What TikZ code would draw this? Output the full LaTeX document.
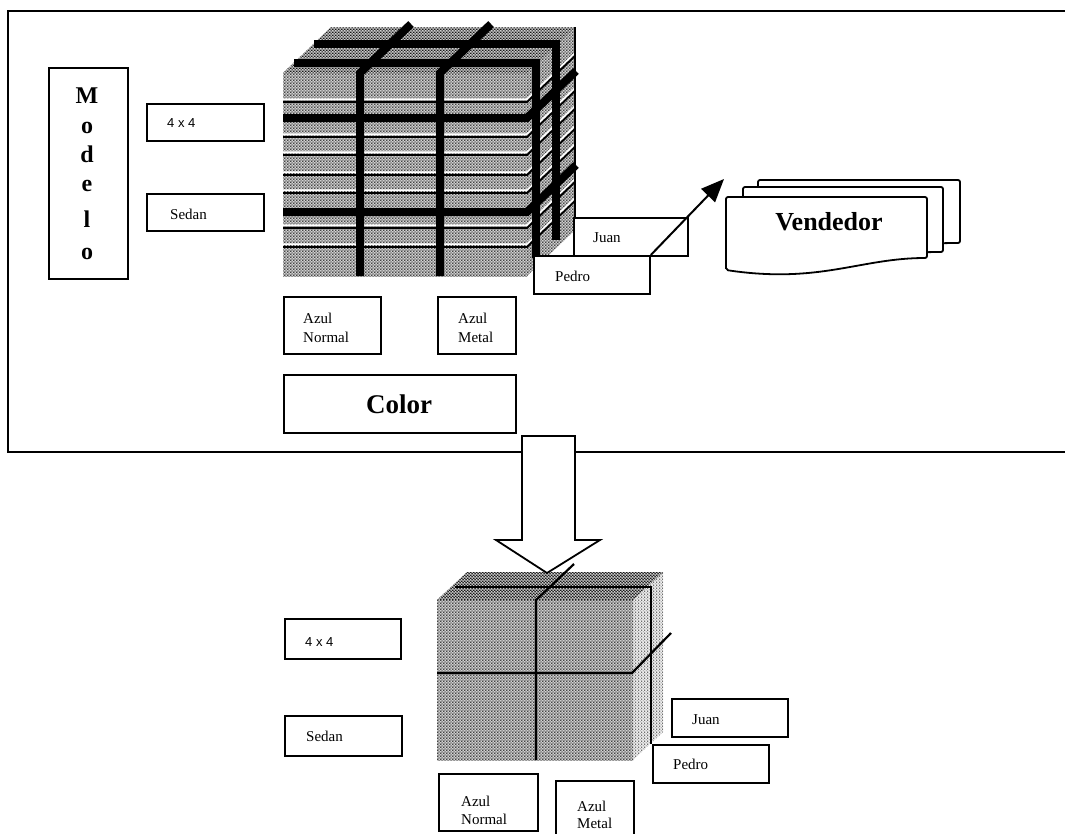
\documentclass[tikz,border=0pt]{standalone}
\usepackage{fontspec}
\setmainfont{Liberation Serif}
\newfontfamily\sansf{Liberation Sans}
\usetikzlibrary{arrows.meta,patterns}
\pgfdeclarepatternformonly{htmid}{\pgfqpoint{0pt}{0pt}}{\pgfqpoint{3pt}{3pt}}{\pgfqpoint{3pt}{3pt}}{%
  \pgfpathcircle{\pgfqpoint{0pt}{0pt}}{0.8pt}\pgfpathcircle{\pgfqpoint{3pt}{0pt}}{0.8pt}%
  \pgfpathcircle{\pgfqpoint{0pt}{3pt}}{0.8pt}\pgfpathcircle{\pgfqpoint{3pt}{3pt}}{0.8pt}%
  \pgfpathcircle{\pgfqpoint{1.5pt}{1.5pt}}{0.8pt}\pgfusepath{fill}}
\pgfdeclarepatternformonly{htdark}{\pgfqpoint{0pt}{0pt}}{\pgfqpoint{3pt}{3pt}}{\pgfqpoint{3pt}{3pt}}{%
  \pgfpathcircle{\pgfqpoint{0pt}{0pt}}{0.95pt}\pgfpathcircle{\pgfqpoint{3pt}{0pt}}{0.95pt}%
  \pgfpathcircle{\pgfqpoint{0pt}{3pt}}{0.95pt}\pgfpathcircle{\pgfqpoint{3pt}{3pt}}{0.95pt}%
  \pgfpathcircle{\pgfqpoint{1.5pt}{1.5pt}}{0.95pt}\pgfusepath{fill}}
\pgfdeclarepatternformonly{htlight}{\pgfqpoint{0pt}{0pt}}{\pgfqpoint{3pt}{3pt}}{\pgfqpoint{3pt}{3pt}}{%
  \pgfpathcircle{\pgfqpoint{0pt}{0pt}}{0.6pt}\pgfpathcircle{\pgfqpoint{3pt}{0pt}}{0.6pt}%
  \pgfpathcircle{\pgfqpoint{0pt}{3pt}}{0.6pt}\pgfpathcircle{\pgfqpoint{3pt}{3pt}}{0.6pt}%
  \pgfpathcircle{\pgfqpoint{1.5pt}{1.5pt}}{0.6pt}\pgfusepath{fill}}
\begin{document}
\begin{tikzpicture}[x=1pt,y=-1pt,
  box/.style={draw, line width=1.8pt, fill=white, inner sep=0pt, anchor=north west},
  lbl/.style={anchor=base west, inner sep=0pt, font=\fontsize{15}{19}\selectfont},
  sanslbl/.style={anchor=base west, inner sep=0pt, font=\sansf\fontsize{13}{15}\selectfont},
  letter/.style={anchor=base, inner sep=0pt, font=\fontsize{24}{24}\selectfont\bfseries},
  big/.style={anchor=base, inner sep=0pt, font=\fontsize{27}{27}\selectfont\bfseries},
  thick bar/.style={line width=8pt},
  thin line/.style={line width=1.8pt},
  doc/.style={draw, line width=1.8pt, fill=white, rounded corners=2pt}]
\useasboundingbox (0,0) rectangle (1065,833);
\fill[white] (0,0) rectangle (1065,833);

% frame
\draw[line width=2pt] (1075,11) -- (8,11) -- (8,452) -- (1075,452);

% ---------- top cube ----------
\fill[pattern=htmid] (283,73) rectangle (527,276);
\fill[pattern=htdark] (283,73) -- (331,27) -- (575,27) -- (527,73) -- cycle;
\fill[pattern=htmid] (527,73) -- (575,27) -- (575,230) -- (527,276) -- cycle;
\foreach \y in {102,137,155,175,193,228,247} {
  \draw[white, line width=1.5pt] (283,\y-3) -- (527,\y-3) -- (575,\y-49);
  \draw[thin line] (283,\y) -- (527,\y) -- (575,\y-46);
}
\draw[thick bar] (283,118) -- (527,118) -- (576,71);
\draw[thick bar] (283,212) -- (527,212) -- (576,165);
\draw[thick bar] (360,276) -- (360,73) -- (411,24);
\draw[thick bar] (440,276) -- (440,73) -- (491,24);
\draw[thick bar] (294,63) -- (536,63) -- (536,258);
\draw[thick bar] (314,44) -- (556,44) -- (556,240);
\draw[line width=1.4pt] (575,27) -- (575,217);

% ---------- top boxes ----------
\node[box, minimum width=79pt, minimum height=211pt] (modelo) at (48,67) {};
\node[letter] (m1) at (87,103) {M};
\node[letter] (m2) at (87,133) {o};
\node[letter] (m3) at (87,162) {d};
\node[letter] (m4) at (87,191) {e};
\node[letter] (m5) at (87,227) {l};
\node[letter] (m6) at (87,259) {o};

\node[box, minimum width=117pt, minimum height=37pt] (b44t) at (146,103) {};
\node[sanslbl] (t44t) at (167,127) {4 x 4};
\node[box, minimum width=117pt, minimum height=37pt] (sedt) at (146,193) {};
\node[lbl] (tsedt) at (170,219) {Sedan};

\node[box, minimum width=97pt, minimum height=57pt] (anormt) at (283,296) {};
\node[lbl] (tanormt1) at (303,323) {Azul};
\node[lbl] (tanormt2) at (303,342) {Normal};
\node[box, minimum width=78pt, minimum height=57pt] (ametalt) at (437,296) {};
\node[lbl] (tametalt1) at (458,323) {Azul};
\node[lbl] (tametalt2) at (458,342) {Metal};
\node[box, minimum width=232pt, minimum height=58pt] (colorb) at (283,374) {};
\node[big] (tcolor) at (399,413) {Color};

\node[box, minimum width=114pt, minimum height=38pt] (juant) at (573,217) {};
\node[lbl] (tjuant) at (593,242) {Juan};
\node[box, minimum width=116pt, minimum height=38pt] (pedrot) at (533,255) {};
\node[lbl] (tpedrot) at (555,281) {Pedro};

% Vendedor documents
\draw[doc] (758,250) -- (758,180) -- (960,180) -- (960,243) .. controls (900,243) and (820,252) .. (758,250) -- cycle;
\draw[doc] (743,260) -- (743,187) -- (943,187) -- (943,252) .. controls (880,252) and (800,263) .. (743,260) -- cycle;
\draw[doc] (726,270) -- (726,197) -- (927,197) -- (927,258) .. controls (860,258) and (820,284) .. (726,270) -- cycle;
\node[big, font=\fontsize{26}{26}\selectfont\bfseries] (vend) at (829,230) {Vendedor};
\coordinate (vtip) at (724,179);
\draw[line width=2pt, -{Triangle[length=23pt,width=19pt]}] (pedrot.north east) -- (vtip);

% ---------- bottom cube ----------
\fill[pattern=htmid] (437,600) rectangle (633,760);
\fill[pattern=htdark] (437,600) -- (467,572) -- (663,572) -- (633,600) -- cycle;
\fill[pattern=htlight] (633,600) -- (663,572) -- (663,732) -- (633,760) -- cycle;

% big arrow
\draw[line width=1.8pt, fill=white, line join=miter] (522,436) -- (575,436) -- (575,540) -- (600,540) -- (547,573) -- (496,540) -- (522,540) -- cycle;

\draw[line width=2.2pt] (455,587) -- (651,587) -- (651,744);
\draw[line width=2.2pt] (536,760) -- (536,600) -- (574,564);
\draw[line width=2.2pt] (437,673) -- (632,673) -- (671,633);

% ---------- bottom boxes ----------
\node[box, minimum width=116pt, minimum height=40pt] (b44b) at (284,618) {};
\node[sanslbl] (t44b) at (305,646) {4 x 4};
\node[box, minimum width=117pt, minimum height=40pt] (sedb) at (284,715) {};
\node[lbl] (tsedb) at (306,741) {Sedan};
\node[box, minimum width=116pt, minimum height=38pt] (juanb) at (671,698) {};
\node[lbl] (tjuanb) at (692,724) {Juan};
\node[box, minimum width=116pt, minimum height=38pt] (pedrob) at (652,744) {};
\node[lbl] (tpedrob) at (673,769) {Pedro};
\node[box, minimum width=99pt, minimum height=57pt] (anormb) at (438,773) {};
\node[lbl] (tanormb1) at (461,806) {Azul};
\node[lbl] (tanormb2) at (461,824) {Normal};
\node[box, minimum width=78pt, minimum height=62pt] (ametalb) at (555,780) {};
\node[lbl] (tametalb1) at (577,811) {Azul};
\node[lbl] (tametalb2) at (577,828) {Metal};
\end{tikzpicture}
\end{document}
